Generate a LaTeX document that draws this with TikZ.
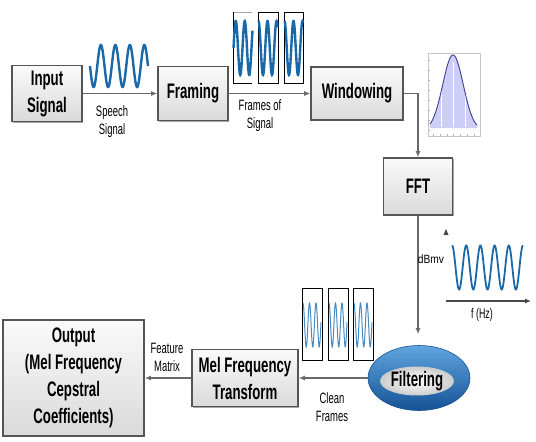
\documentclass[tikz,border=0pt]{standalone}
\usepackage{fontspec}
\newfontfamily\cond{Liberation Sans}[FakeStretch=0.63]
\newfontfamily\condsmall{Liberation Sans}[FakeStretch=0.63]
\newfontfamily\condmid{Liberation Sans}[FakeStretch=0.85]
\usetikzlibrary{shadows,arrows.meta,shapes.geometric}
\definecolor{boxborder}{RGB}{85,85,85}
\definecolor{boxtop}{RGB}{250,250,250}
\definecolor{boxbot}{RGB}{218,218,218}
\definecolor{wave}{RGB}{25,105,170}
\definecolor{wavelight}{RGB}{70,140,195}
\definecolor{conn}{RGB}{105,105,105}
\definecolor{ringtop}{RGB}{95,165,222}
\definecolor{ringbot}{RGB}{22,82,150}
\definecolor{gaussfill}{RGB}{205,205,245}
\definecolor{gaussline}{RGB}{60,60,150}
\begin{document}
\begin{tikzpicture}[x=1pt,y=-1pt,
  stepbox/.style={draw=boxborder, line width=1.6pt, top color=boxtop, bottom color=boxbot,
    drop shadow={shadow xshift=1.3pt, shadow yshift=-1.3pt, fill=black, opacity=0.35},
    font=\cond\bfseries\fontsize{21}{27}\selectfont, align=center, inner sep=0pt},
  lbl/.style={font=\condsmall\fontsize{15}{18}\selectfont, align=center, inner sep=0pt},
  conn/.style={draw=conn, line width=1.1pt, -{Latex[length=6pt,width=5pt]}},
  frame/.style={draw=black, line width=1pt},
  thickwave/.style={draw=wave, line width=2.4pt},
  thinwave/.style={draw=wavelight, line width=1pt}]
\useasboundingbox (0,0) rectangle (536,442);

% boxes
\node[stepbox, minimum width=70pt, minimum height=56pt] (inp) at (47,93.5) {Input\\Signal};
\node[stepbox, minimum width=70pt, minimum height=54pt] (fram) at (193,93.5) {Framing};
\node[stepbox, minimum width=92pt, minimum height=53pt] (wind) at (357,93.5) {Windowing};
\node[stepbox, minimum width=69pt, minimum height=57pt] (fft) at (418,186.5) {FFT};
\node[stepbox, minimum width=106pt, minimum height=57pt] (mel) at (245,378) {Mel Frequency\\Transform};
\node[stepbox, minimum width=141pt, minimum height=116pt] (out) at (73.5,378) {Output\\(Mel Frequency\\Cepstral\\Coefficients)};

% filtering ring
\node[ellipse, minimum width=102pt, minimum height=65pt, top color=ringtop, bottom color=ringbot,
  draw=ringbot, line width=0.6pt] (filt) at (419,378) {};
\node[ellipse, minimum width=70pt, minimum height=29pt, inner sep=0pt, inner color=white, outer color=gray!40,
  font=\cond\bfseries\fontsize{21}{27}\selectfont] (filtx) at (417,381) {Filtering};

% connectors
\draw[conn] (inp.east) -- (fram.west);
\draw[conn] (fram.east) -- (wind.west);
\draw[conn] (wind.east) -| (fft.north);
\draw[conn, shorten >=11pt] (fft.south) -- (fft.south |- filt.north);
\draw[conn] (filt.west) -- (mel.east);
\draw[conn] (mel.west) -- (out.east);

% labels
\node[lbl] (speech) at (112,122) {Speech\\Signal};
\node[lbl] (frames) at (260,116) {Frames of\\Signal};
\node[lbl] (feat) at (167,357) {Feature\\Matrix};
\node[lbl] (clean) at (332,407) {Clean\\Frames};

% speech wave
\draw[thickwave] plot[domain=0:58, samples=150, smooth] ({\x+90}, {66 + 21*sin(\x*24.83)});

% frames of signal
\draw[gray!70, line width=1pt] (233,12) -- (252,12);
\draw[frame] (233,12) -- (233,83) -- (252,83);
\draw[frame] (258,12) rectangle (278,83);
\draw[frame] (284,12) rectangle (303,83);
\draw[thickwave] plot[domain=0:19, samples=80, smooth] ({\x+233.5}, {48 - 27*sin(\x*40)});
\draw[thickwave] plot[domain=0:19, samples=80, smooth] ({\x+258.5}, {48 - 27*cos(\x*40)});
\draw[thickwave] plot[domain=0:18.5, samples=80, smooth] ({\x+284.5}, {48 - 27*cos(\x*40)});

% gaussian window plot
\draw[gray!45, line width=0.4pt] (428,53) rectangle (480,136);
\foreach \t in {433,440,447,453,460,467,474} \draw[gray!60, line width=0.3pt] (\t,136) -- (\t,134);
\foreach \t in {60,70,80,90,100,110,120,130} \draw[gray!60, line width=0.3pt] (428,\t) -- (430,\t);
\fill[gaussfill] plot[domain=430:477, samples=80, smooth] (\x, {130 - 75*exp(-1*(((\x-453)/14.5)^2))}) -- (477,128) -- (430,128) -- cycle;
\foreach \t in {441,453,465} \draw[white, line width=0.5pt] (\t,62) -- (\t,127);
\draw[gaussline, line width=0.9pt] plot[domain=430:477, samples=80, smooth] (\x, {130 - 75*exp(-1*(((\x-453)/14.5)^2))});

% spectrum plot
\coordinate (ax0) at (446,301);
\coordinate (ax1) at (531,301);
\draw[draw=conn!70!black, line width=1.1pt, -{Latex[length=6pt,width=5pt]}] (ax0) -- (ax1);
\fill[conn!70!black] (446,229) -- (443.5,235) -- (448.5,235) -- cycle;
\draw[draw=wave, line width=1.8pt] plot[domain=0:71, samples=180, smooth] ({\x+452}, {267.5 + 22*sin(\x*25.35 - 90)});
\node[font=\condmid\fontsize{12}{14}\selectfont, inner sep=0pt] (dbmv) at (431,259) {dBmv};
\node[font=\condsmall\fontsize{14}{16}\selectfont, inner sep=0pt] (fhz) at (482,315) {f (Hz)};

% clean frames
\draw[frame, line width=0.9pt] (302,288) rectangle (322,360);
\draw[frame, line width=0.9pt] (328,288) rectangle (348,360);
\draw[frame, line width=0.9pt] (353,288) rectangle (373,360);
\draw[thinwave] plot[domain=0:18, samples=100, smooth] ({\x+303}, {325 - 22*cos(\x*55.4)});
\draw[thinwave] plot[domain=0:18, samples=100, smooth] ({\x+329}, {325 - 22*cos(\x*55.4)});
\draw[thinwave] plot[domain=0:18, samples=100, smooth] ({\x+354}, {325 - 22*cos(\x*55.4)});
\end{tikzpicture}
\end{document}
